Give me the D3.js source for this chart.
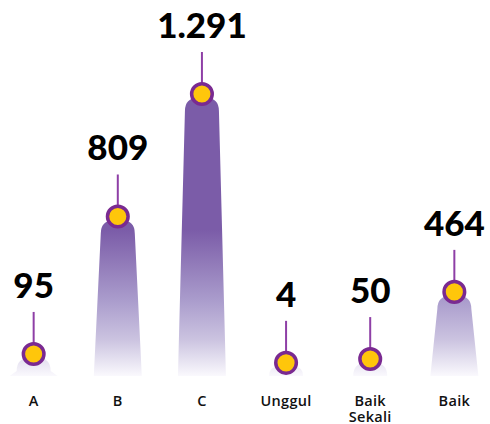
<!DOCTYPE html>
<html>
<head>
<meta charset="utf-8">
<script src="https://cdn.jsdelivr.net/npm/d3@7"></script>
<style>
  html, body { margin: 0; padding: 0; background: #fff; }
  svg { display: block; }
</style>
</head>
<body>
<div id="chart"></div>
<script>
// data
const categories = ["A", "B", "C", "Unggul", "Baik Sekali", "Baik"];
const values = [95, 809, 1291, 4, 50, 464];
const valueLabels = ["95", "809", "1.291", "4", "50", "464"];

const width = 490, height = 424;
const baseY = 376;

const svg = d3.select("#chart")
  .append("svg")
  .attr("width", width)
  .attr("height", height);

// x positions
const x = d3.scalePoint()
  .domain(categories)
  .range([0, 488])
  .padding(0.4);

// heights are not linear in the picture, a pow scale gets close
const y = d3.scalePow()
  .exponent(1.3)
  .domain([0, d3.max(values)])
  .range([baseY - 13, 94]);

// gradient over the whole plot, so short bars look pale
const defs = svg.append("defs");
const grad = defs.append("linearGradient")
  .attr("id", "barGrad")
  .attr("gradientUnits", "userSpaceOnUse")
  .attr("x1", 0).attr("x2", 0)
  .attr("y1", 230).attr("y2", baseY);
[[0, "#7b5ca8"], [0.48, "#aa9ccc"], [0.75, "#cbc3e0"], [1, "#faf9fd"]].forEach(s => {
  grad.append("stop").attr("offset", s[0]).attr("stop-color", s[1]);
});

const topW = 34, baseW = 48, r = 13;
function barPath(cx, yt) {
  const rr = Math.min(r, (baseY - yt));
  const l = cx - topW / 2, rt = cx + topW / 2;
  return `M${cx - baseW / 2},${baseY}` +
    `L${l},${yt + rr}` +
    `Q${l},${yt} ${l + rr},${yt}` +
    `L${rt - rr},${yt}` +
    `Q${rt},${yt} ${rt},${yt + rr}` +
    `L${cx + baseW / 2},${baseY}Z`;
}

const g = svg.selectAll("g.item")
  .data(categories)
  .join("g")
  .attr("class", "item");

g.append("path")
  .attr("d", (d, i) => barPath(x(d), y(values[i]) + 4))
  .attr("fill", "url(#barGrad)");

// stems
g.append("line")
  .attr("x1", d => x(d)).attr("x2", d => x(d))
  .attr("y1", (d, i) => y(values[i]) - 42)
  .attr("y2", (d, i) => y(values[i]))
  .attr("stroke", "#8e3fa6")
  .attr("stroke-width", 2);

g.append("circle")
  .attr("cx", d => x(d))
  .attr("cy", (d, i) => y(values[i]))
  .attr("r", 10.3)
  .attr("fill", "#ffc60b")
  .attr("stroke", "#7a2a91")
  .attr("stroke-width", 3.5);

g.append("text")
  .attr("x", d => x(d))
  .attr("y", (d, i) => y(values[i]) - 56)
  .attr("text-anchor", "middle")
  .style("font-family", "Lato, sans-serif")
  .style("font-weight", 900)
  .style("font-size", "35px")
  .attr("fill", "#000")
  .text((d, i) => valueLabels[i]);

// category labels, wrap on space
g.append("text")
  .attr("text-anchor", "middle")
  .style("font-family", "'Open Sans', sans-serif")
  .style("font-weight", 600)
  .style("font-size", "14.5px")
  .style("letter-spacing", "0.3px")
  .attr("fill", "#111")
  .each(function (d) {
    const words = d.split(" ");
    d3.select(this).selectAll("tspan")
      .data(words)
      .join("tspan")
      .attr("x", x(d))
      .attr("y", (w, j) => 406 + j * 16)
      .text(w => w);
  });
</script>
</body>
</html>
